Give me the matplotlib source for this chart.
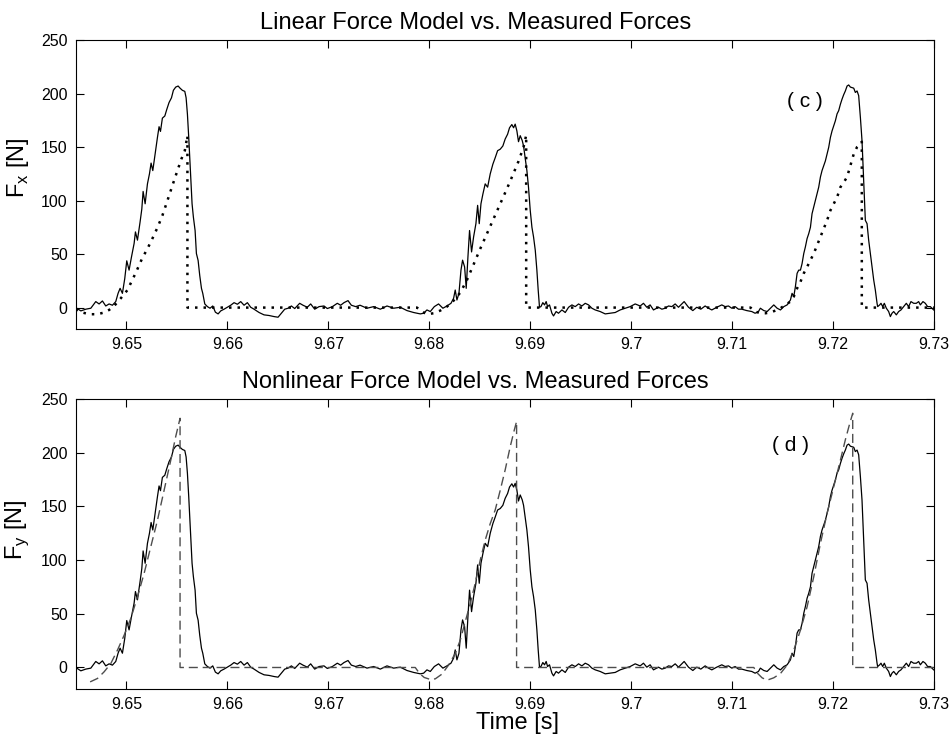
import matplotlib
matplotlib.use("Agg")
import matplotlib.pyplot as plt
import numpy as np

plt.rcParams['font.family'] = ['Liberation Sans', 'DejaVu Sans']

# Measured force signal (time [s], force [N])
time_meas = [
    9.64498, 9.64548, 9.64597, 9.64647, 9.64696, 9.64729, 9.64762, 9.64795, 9.64828, 9.64861,
    9.64894, 9.64917, 9.64937, 9.64960, 9.64983, 9.65003, 9.65026, 9.65050, 9.65076, 9.65089,
    9.65109, 9.65135, 9.65152, 9.65165, 9.65185, 9.65208, 9.65228, 9.65244, 9.65261, 9.65284,
    9.65307, 9.65323, 9.65337, 9.65356, 9.65380, 9.65399, 9.65422, 9.65446, 9.65465, 9.65488,
    9.65512, 9.65531, 9.65554, 9.65578, 9.65591, 9.65604, 9.65617, 9.65634, 9.65650, 9.65663,
    9.65680, 9.65693, 9.65710, 9.65726, 9.65743, 9.65756, 9.65776, 9.65802, 9.65828, 9.65855,
    9.65881, 9.65908, 9.65934, 9.65967, 9.66000, 9.66033, 9.66066, 9.66099, 9.66132, 9.66165,
    9.66198, 9.66231, 9.66264, 9.66314, 9.66363, 9.66413, 9.66462, 9.66502, 9.66535, 9.66568,
    9.66601, 9.66634, 9.66667, 9.66716, 9.66749, 9.66792, 9.66825, 9.66865, 9.66908, 9.66957,
    9.66990, 9.67040, 9.67089, 9.67122, 9.67155, 9.67195, 9.67228, 9.67271, 9.67314,
    9.67383, 9.67449, 9.67515, 9.67581, 9.67647, 9.67713, 9.67779, 9.67845, 9.67911, 9.67944,
    9.67977, 9.68010, 9.68050, 9.68092, 9.68135, 9.68175, 9.68215, 9.68241, 9.68257, 9.68274,
    9.68294, 9.68314, 9.68330, 9.68350, 9.68366, 9.68383, 9.68399, 9.68419, 9.68439, 9.68462,
    9.68479, 9.68495, 9.68512, 9.68531, 9.68554, 9.68578, 9.68604, 9.68630, 9.68653, 9.68677,
    9.68703, 9.68729, 9.68752, 9.68776, 9.68795, 9.68818, 9.68835, 9.68851, 9.68868, 9.68884,
    9.68901, 9.68921, 9.68934, 9.68950, 9.68967, 9.68983, 9.69000, 9.69017, 9.69033, 9.69050,
    9.69066, 9.69079, 9.69092, 9.69106, 9.69125, 9.69142, 9.69158, 9.69172, 9.69191, 9.69215,
    9.69231, 9.69257, 9.69280, 9.69314, 9.69347, 9.69380, 9.69413, 9.69446, 9.69479, 9.69512,
    9.69545, 9.69578, 9.69611, 9.69644, 9.69693, 9.69743, 9.69792, 9.69842, 9.69891, 9.69941,
    9.69990, 9.70040, 9.70089, 9.70122, 9.70155, 9.70188, 9.70221, 9.70271,
    9.70304, 9.70337, 9.70370, 9.70403, 9.70436, 9.70469, 9.70525, 9.70568, 9.70611, 9.70650,
    9.70690, 9.70733, 9.70766, 9.70799, 9.70848, 9.70898, 9.70931, 9.70964, 9.70997, 9.71030,
    9.71063, 9.71096, 9.71145, 9.71195, 9.71228, 9.71261,
    9.71280, 9.71314, 9.71347, 9.71380, 9.71413, 9.71446, 9.71479, 9.71512, 9.71545, 9.71578,
    9.71594, 9.71611, 9.71627, 9.71644, 9.71660, 9.71677, 9.71693, 9.71710, 9.71726, 9.71743,
    9.71759, 9.71776, 9.71792, 9.71809, 9.71825, 9.71842, 9.71858, 9.71875, 9.71891, 9.71908,
    9.71924, 9.71941, 9.71957, 9.71974, 9.71990, 9.72007, 9.72023, 9.72040, 9.72056, 9.72073,
    9.72089, 9.72106, 9.72122, 9.72139, 9.72155, 9.72172, 9.72188, 9.72205, 9.72221, 9.72238,
    9.72254, 9.72271, 9.72287, 9.72304, 9.72320, 9.72337, 9.72353, 9.72370, 9.72386, 9.72403,
    9.72419, 9.72436, 9.72442, 9.72462, 9.72475, 9.72492, 9.72508, 9.72528, 9.72551, 9.72568,
    9.72584, 9.72601, 9.72627, 9.72650, 9.72673, 9.72700, 9.72726, 9.72749, 9.72772, 9.72799,
    9.72825, 9.72848, 9.72865, 9.72891, 9.72914, 9.72937, 9.72964, 9.72997,
]
force_meas = [
    0.0, -3.1, -1.5, -0.6, 5.6, 3.4, 6.2, 1.5, 3.4, 2.2,
    5.6, 13.3, 18.0, 13.3, 27.0, 43.7, 35.0, 47.4, 60.0, 70.7,
    63.0, 80.0, 92.0, 108.5, 97.0, 115.6, 125.0, 135.0, 128.0, 143.5,
    159.0, 169.0, 164.6, 177.0, 179.0, 185.0, 191.6, 196.0, 203.0, 206.0,
    207.0, 205.0, 203.0, 202.0, 196.0, 180.7, 159.0, 128.0, 97.0, 84.6,
    72.0, 50.5, 44.0, 30.0, 18.0, 13.3, 3.4, 0.9, -0.6, 1.5,
    -4.3, -5.9, -3.1, -1.5, 0.3, 2.2, 4.6, 3.1, 5.6, 2.2,
    4.6, 0.3, -1.5, -4.6, -6.8, -7.4, -8.4, -9.0, -5.3, -1.5,
    -0.6, 1.5, -0.9, 4.0, 2.2, 0.3, 3.4, -1.5, 0.9, 1.5,
    -0.9, 0.9, 4.0, 2.2, 4.6, 6.5, 2.2, 0.9, 2.2,
    -0.6, 0.9, -1.5, 1.5, -0.6, 0.3, -2.8, -4.6, -5.9, -5.3,
    -2.2, -3.7, 0.9, 3.4, -0.6, 1.5, 4.0, 8.7, 16.4, 7.1,
    13.3, 35.0, 44.3, 38.0, 18.0, 47.4, 72.0, 52.0, 66.0, 78.4,
    95.5, 78.4, 97.0, 106.0, 115.6, 112.5, 125.0, 134.0, 140.0, 146.6,
    148.0, 151.0, 157.5, 162.0, 168.0, 171.0, 168.0, 171.4, 165.0, 155.0,
    160.6, 156.0, 151.0, 140.0, 128.0, 112.5, 91.0, 75.0, 66.0, 53.6,
    35.0, 16.4, 0.3, 0.9, 4.6, 2.5, 5.6, 0.9, 2.5, -5.3,
    -7.8, -3.7, -5.3, -2.2, -4.6, 0.3, 2.5, 0.9, 3.4, 1.5,
    4.0, 2.5, -0.6, -2.2, -3.7, -5.9, -5.3, -4.6, -2.2, -0.6,
    0.9, 3.4, 1.5, 4.0, 0.3, 2.5, -2.2, 0.3,
    -1.5, -0.6, 1.5, 0.9, 3.4, 0.3, 5.6, 0.3, -2.8, 0.3,
    -1.5, 1.5, -0.6, -2.2, 0.3, 2.5, 0.9, 1.5, -0.6, 0.9,
    -1.5, -1.5, -2.8, -3.7, -5.3, -3.7,
    -0.6, -2.8, -3.7, -0.6, 2.5, -0.6, -2.2, 0.9, 2.5, 7.1,
    13.3, 10.2, 19.5, 32.0, 35.0, 35.0, 41.0, 50.5, 56.7, 64.5,
    69.0, 75.0, 87.7, 94.0, 100.0, 106.0, 112.5, 122.0, 128.0, 132.7,
    137.0, 143.5, 149.7, 159.0, 165.0, 170.0, 174.5, 181.0, 184.0, 190.0,
    194.7, 199.0, 202.4, 207.0, 208.0, 206.0, 205.5, 205.0, 201.0, 202.4,
    198.0, 177.6, 156.0, 118.7, 81.5, 78.4, 63.0, 50.5, 38.0, 25.7,
    16.4, 4.0, 0.9, 2.5, 4.0, 0.9, 4.0, -0.6, -3.7, -8.4,
    -5.3, -3.7, -6.8, -3.7, -2.2, 0.9, 4.0, 0.9, 5.6, 4.0,
    4.0, 5.6, 2.5, 5.6, 4.0, 0.9, 0.9, -2.2,
]

# Linear force model
time_lin = [
    9.64498, 9.64564, 9.64630, 9.64713, 9.64779, 9.64828, 9.64878, 9.64944, 9.65010, 9.65092,
    9.65158, 9.65208, 9.65257, 9.65307, 9.65356, 9.65406, 9.65455, 9.65505, 9.65545, 9.65578,
    9.65604, 9.65604, 9.67878, 9.67927, 9.67977, 9.68043, 9.68109, 9.68175, 9.68241, 9.68307,
    9.68373, 9.68439, 9.68505, 9.68571, 9.68637, 9.68703, 9.68769, 9.68828, 9.68884, 9.68934,
    9.68960, 9.68960, 9.71182, 9.71231, 9.71280, 9.71330, 9.71380, 9.71429, 9.71479, 9.71528,
    9.71578, 9.71611, 9.71644, 9.71677, 9.71710, 9.71743, 9.71776, 9.71809, 9.71842, 9.71875,
    9.71908, 9.71941, 9.71974, 9.72007, 9.72040, 9.72073, 9.72106, 9.72139, 9.72172, 9.72205,
    9.72238, 9.72271, 9.72285, 9.72285, 9.73000,
]
force_lin = [
    -1.5, -4.6, -6.2, -6.2, -4.6, -2.2, 1.5, 8.7, 16.4, 32.5,
    46.5, 55.0, 64.5, 74.7, 86.0, 100.0, 114.0, 128.0, 139.0, 146.6,
    160.6, 0.0, 0.0, -3.7, -6.2, -5.3, -2.8, 0.9, 6.5, 14.0,
    25.7, 40.3, 55.0, 69.0, 83.0, 97.0, 111.0, 124.0, 136.7, 150.0,
    161.0, 0.0, 0.0, -3.7, -5.3, -5.3, -4.6, -2.8, -0.6, 2.5,
    5.6, 10.2, 18.0, 24.0, 32.0, 38.0, 44.3, 50.5, 58.3, 66.0,
    73.8, 81.5, 90.8, 97.0, 103.0, 112.5, 117.0, 122.0, 132.7, 143.5,
    150.0, 153.0, 155.0, 0.0, 0.0,
]

# Nonlinear force model
time_nl = [
    9.64640, 9.64713, 9.64779, 9.64845, 9.64911, 9.64977, 9.65043, 9.65109, 9.65175, 9.65241,
    9.65307, 9.65373, 9.65439, 9.65488, 9.65531, 9.65531, 9.67861, 9.67904, 9.67950, 9.68003,
    9.68059, 9.68125, 9.68191, 9.68257, 9.68307, 9.68356, 9.68406, 9.68455, 9.68505, 9.68554,
    9.68604, 9.68653, 9.68703, 9.68752, 9.68802, 9.68842, 9.68865, 9.68865, 9.71215, 9.71254,
    9.71297, 9.71347, 9.71413, 9.71479, 9.71545, 9.71611, 9.71677, 9.71743, 9.71809, 9.71875,
    9.71941, 9.72007, 9.72073, 9.72122, 9.72165, 9.72195, 9.72195, 9.73000,
]
force_nl = [
    -13.4, -10.2, -4.0, 3.7, 16.2, 30.0, 45.7, 65.8, 87.6, 112.4,
    137.0, 165.0, 193.0, 215.0, 232.0, 0.0, 0.0, -5.6, -9.3, -10.9,
    -10.6, -6.2, 2.2, 13.0, 25.5, 42.5, 59.6, 78.3, 100.0, 118.6,
    134.0, 146.6, 165.0, 184.0, 205.6, 221.0, 229.0, 0.0, 0.0, -5.6,
    -9.6, -11.8, -9.6, -5.6, 2.2, 16.2, 34.8, 56.5, 84.5, 115.5,
    143.5, 168.3, 193.0, 212.0, 227.0, 236.7, 0.0, 0.0,
]

x_ticks = [9.65, 9.66, 9.67, 9.68, 9.69, 9.70, 9.71, 9.72, 9.73]
x_ticklabels = ["9.65", "9.66", "9.67", "9.68", "9.69", "9.7", "9.71", "9.72", "9.73"]
y_ticks = [0, 50, 100, 150, 200, 250]

fig = plt.figure(figsize=(9.51, 7.45), dpi=100)
ax1 = fig.add_axes([0.0799, 0.5584, 0.9022, 0.3879])
ax2 = fig.add_axes([0.0799, 0.0752, 0.9022, 0.3893])


def style_axes(ax):
    ax.set_xlim(9.645, 9.73)
    ax.set_ylim(-20, 250)
    ax.set_xticks(x_ticks)
    ax.set_xticklabels(x_ticklabels)
    ax.set_yticks(y_ticks)
    ax.tick_params(direction='in', top=True, right=True, length=6, width=0.8,
                   labelsize=11.5, pad=6)
    for s in ax.spines.values():
        s.set_linewidth(0.8)


ax1.plot(time_meas, force_meas, color='black', lw=0.9)
ax1.plot(time_lin, force_lin, color='black', lw=1.8,
         linestyle=(0, (1.0, 2.4)))
style_axes(ax1)
ax1.set_title('Linear Force Model vs. Measured Forces', fontsize=17, pad=8,
              x=0.4656)
ax1.set_ylabel('F$_\\mathregular{x}$ [N]', fontsize=17)
ax1.yaxis.set_label_coords(-0.052, 0.56)
ax1.text(9.7172, 193, '( c )', fontsize=15, ha='center', va='center')

ax2.plot(time_meas, force_meas, color='black', lw=0.9)
ax2.plot(time_nl, force_nl, color='0.3', lw=1.0,
         linestyle=(0, (6.5, 3.5)))
style_axes(ax2)
ax2.set_title('Nonlinear Force Model vs. Measured Forces', fontsize=17, pad=8,
              x=0.4656)
ax2.set_ylabel('F$_\\mathregular{y}$ [N]', fontsize=17)
ax2.yaxis.set_label_coords(-0.052, 0.55)
ax2.set_xlabel('Time [s]', fontsize=17)
ax2.xaxis.set_label_coords(0.515, -0.078)
ax2.text(9.7158, 207, '( d )', fontsize=15, ha='center', va='center')

fig.savefig('out.png', dpi=100)
